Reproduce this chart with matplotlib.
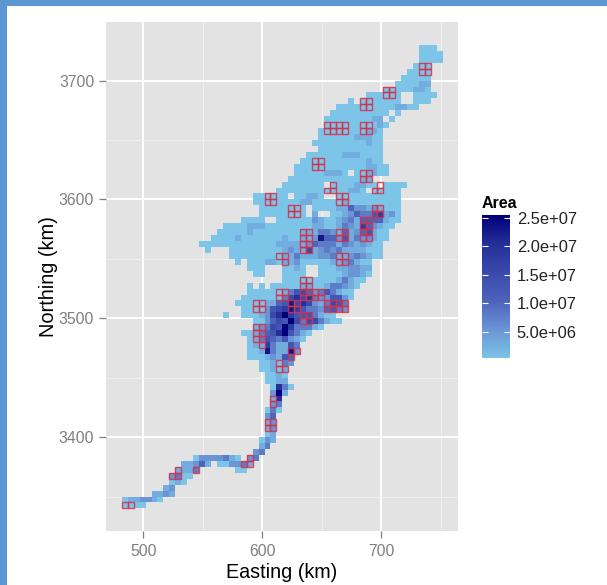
import matplotlib
matplotlib.use('Agg')
import matplotlib.pyplot as plt
from matplotlib.colors import LinearSegmentedColormap, Normalize
from matplotlib.patches import Rectangle
import numpy as np

plt.rcParams['font.family'] = ['Liberation Sans', 'DejaVu Sans']

# grid cells are 5 km, first column / row edges
cell_km = 5
east_origin = 482
north_origin = 3340
level_step = 2.5e6
area_floor = 4e5

# one entry per row from the south up: first column, then levels (hex, '.' = no data)
row_start = [0, 0, 5, 7, 8, 8, 9, 10, 12, 22,
             23, 23, 24, 24, 24, 24, 24, 25, 25, 25,
             25, 24, 24, 23, 23, 21, 21, 21, 21, 20,
             22, 22, 17, 20, 19, 20, 21, 21, 27, 22,
             21, 19, 18, 14, 13, 15, 16, 17, 20, 23,
             23, 22, 22, 26, 27, 28, 29, 29, 30, 31,
             33, 32, 33, 33, 34, 34, 35, 36, 38, 41,
             44, 46, 47, 48, 49, 50, 50, 50]
row_levels = [
    "0000", "0112210", "1121", "12", "010", "2300",
    "1113......00", "11241.002231", "02222310.23", "23",
    "13", "021", "01", "12", "12", "24", "030", "23", "18", "2a1",
    "0830", "0011", "0010", "00101", "001032",
    "00012154", "001931192", "011731153", "0135435210", "0013458a5310",
    "12365a733310", "002465a63663100", "0..0001268a75553100",
    "000025679753324532", "0000011459686213653", "000000036868322552" + "0",
    "00000013564235310" + "0", "0.0.000001100133210", "00000000013100",
    "00...0000..000012210",
    "000...0010..000112211", "0.000110112000001123100",
    "000000000113111223112321" + "00",
    "0...000000000121161232311110" + "00",
    "000000000000011111243331321" + "2100",
    "00001000000010011294425132" + "2100",
    "0000010000000011133214124510" + "0",
    "0000111000000001100132174" + "2100",
    "0000..00000021001231444" + "4100",
    "00000000.1..001243357120",
    "00000000.000011422121000",
    "0000000011000001000000000",
    "000000.00110..00000000000",
    "000000000000110.00000",
    "0000000.00001100.0000",
    "00000000000011",
    "000001110.001100",
    "0000000000001100",
    "00000000000100",
    "0000001110000",
    "00000000000",
    "000000000100",
    "00000011100",
    "00000000110",
    "00000000010",
    "0000000011.0",
    "0000000000.0",
    "00000000001100",
    "0.0000000..000",
    "000000..0000",
    "00000110",
    "000011",
    "00000",
    "0000",
    "000",
    "0000",
    "0000",
    "000",
]

# outlined cells: row -> columns
box_cells = {0: [0, 1], 5: [8, 9], 6: [9, 12], 7: [20, 21], 8: [21],
             13: [24, 25], 14: [24, 25], 17: [25], 18: [25],
             23: [26, 27], 24: [26], 25: [28], 26: [28, 29], 27: [23],
             28: [22, 23], 29: [22, 23], 30: [22, 23], 31: [30, 31], 32: [30, 31],
             33: [22, 23, 28, 29, 34, 35, 36, 37], 34: [22, 23, 28, 29, 34, 35, 36, 37],
             35: [26, 27, 30, 31, 32, 33], 36: [26, 27, 30, 31, 32, 33],
             37: [30, 31], 38: [30, 31], 41: [27, 36, 37], 42: [26, 27, 36, 37],
             43: [30, 31], 44: [30, 31], 45: [30, 31, 36, 37, 40, 41],
             46: [30, 31, 36, 37, 40, 41], 47: [40, 41], 48: [40, 41],
             49: [28, 29, 42, 43], 50: [28, 29, 42, 43],
             51: [24, 25, 36, 37], 52: [24, 25, 36, 37],
             53: [34, 35, 42, 43], 54: [35, 43], 55: [40, 41], 56: [40, 41],
             57: [32, 33], 58: [32, 33], 63: [34, 35, 36, 37, 40, 41],
             64: [34, 35, 36, 37, 40, 41], 67: [40, 41], 68: [40, 41],
             69: [44, 45], 70: [44, 45], 73: [50, 51], 74: [50, 51]}

x_ticks = [500, 600, 700]
y_ticks = [3400, 3500, 3600, 3700]
legend_ticks = [5.0e6, 1.0e7, 1.5e7, 2.0e7, 2.5e7]
legend_labels = ['5.0e+06', '1.0e+07', '1.5e+07', '2.0e+07', '2.5e+07']

W, H = 607, 585


def px_axes(left, top, right, bottom):
    return [left / W, 1 - bottom / H, (right - left) / W, (bottom - top) / H]


# build the grid
n_rows = len(row_levels)
n_cols = 54
area = np.full((n_rows, n_cols), np.nan)
for r in range(n_rows):
    for i, ch in enumerate(row_levels[r]):
        if ch != '.':
            area[r, row_start[r] + i] = int(ch, 16) * level_step + area_floor

x_edges = east_origin + cell_km * np.arange(n_cols + 1)
y_edges = north_origin + cell_km * np.arange(n_rows + 1)

cmap = LinearSegmentedColormap.from_list(
    'area', ['#7cc4e8', '#6a94d4', '#4d63bb', '#3a49ab', '#242e98', '#000078'])
norm = Normalize(area_floor, 2.55e7)

fig = plt.figure(figsize=(W / 100, H / 100), dpi=100, facecolor='white')

# blue frame on the left and top of the screenshot
border = '#5b97d3'
fig.patches.append(Rectangle((0, 0), 7 / W, 1, transform=fig.transFigure, color=border, lw=0))
fig.patches.append(Rectangle((0, 1 - 6 / H), 1, 6 / H, transform=fig.transFigure, color=border, lw=0))

ax = fig.add_axes(px_axes(106, 22, 458, 531))
ax.set_facecolor('#e3e3e3')
mesh = ax.pcolormesh(x_edges, y_edges, np.ma.masked_invalid(area), cmap=cmap, norm=norm,
                     linewidth=0, zorder=2)

for r, cols in box_cells.items():
    for c in cols:
        ax.add_patch(Rectangle((x_edges[c], y_edges[r]), cell_km, cell_km, fill=False,
                               edgecolor='#d6304a', lw=1.0, alpha=0.85, zorder=3, snap=True))

ax.set_xlim(468.7, 764.7)
ax.set_ylim(3321, 3749.3)
ax.set_xticks(x_ticks)
ax.set_yticks(y_ticks)
ax.set_xticks([550, 650, 750], minor=True)
ax.set_yticks([3350, 3450, 3550, 3650], minor=True)
ax.set_axisbelow(True)
ax.grid(True, which='major', color='white', lw=1.4)
ax.grid(True, which='minor', color='#efefef', lw=0.7)
ax.tick_params(which='minor', length=0)
ax.tick_params(which='major', color='#7f7f7f', labelcolor='#7f7f7f', labelsize=11.3,
               length=5, width=0.9)
ax.tick_params(axis='x', which='major', pad=4.5)
ax.tick_params(axis='y', which='major', pad=3.5)
for s in ax.spines.values():
    s.set_visible(False)
ax.set_xlabel('Easting (km)', fontsize=14.2, labelpad=2.5)
ax.set_ylabel('Northing (km)', fontsize=14.4, labelpad=0.5)

# legend
cax = fig.add_axes(px_axes(482, 215, 510.5, 358))
cb = fig.colorbar(mesh, cax=cax, ticks=legend_ticks)
cb.outline.set_visible(False)
cb.set_ticklabels(legend_labels)
cax.tick_params(left=True, right=True, direction='in', color='white', length=4, width=0.8,
                labelsize=11.9, labelcolor='#222222', pad=4.5)
fig.text(482 / W, 1 - 203 / H, 'Area', fontsize=11.5, fontweight='bold', va='center', ha='left')

fig.savefig('out.png', dpi=100)
